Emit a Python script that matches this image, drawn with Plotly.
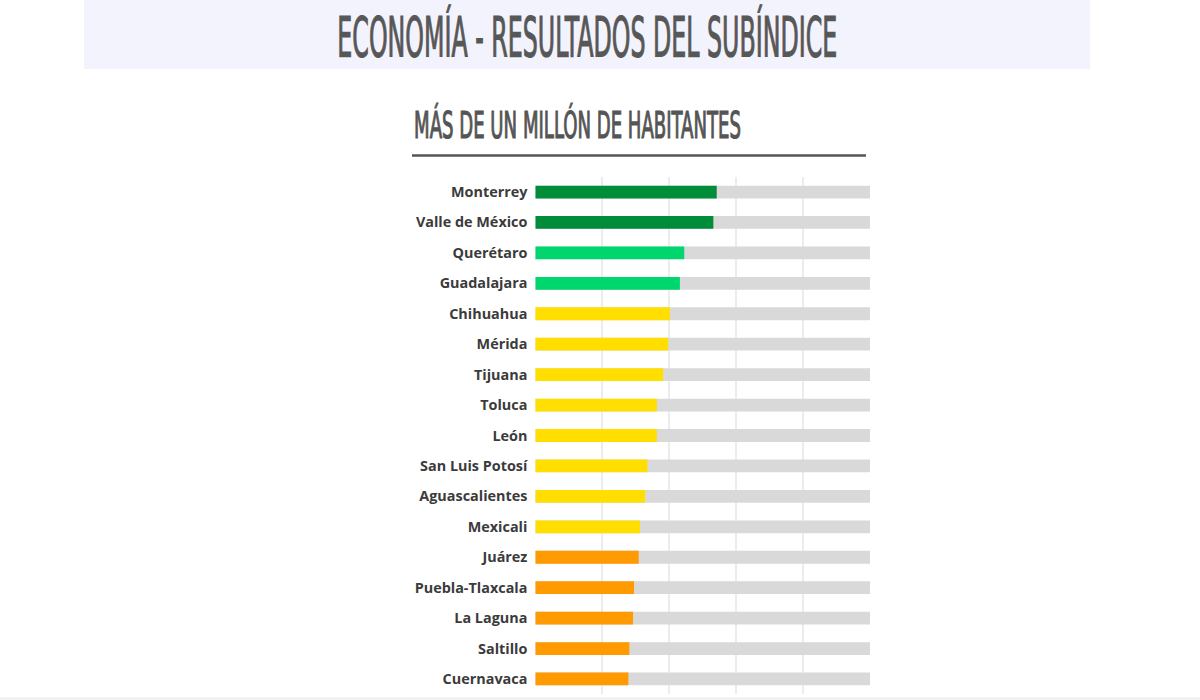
import plotly.graph_objects as go

ciudades = ["Monterrey", "Valle de México", "Querétaro", "Guadalajara", "Chihuahua",
            "Mérida", "Tijuana", "Toluca", "León", "San Luis Potosí", "Aguascalientes",
            "Mexicali", "Juárez", "Puebla-Tlaxcala", "La Laguna", "Saltillo", "Cuernavaca"]
valores = [54.2, 53.2, 44.5, 43.2, 40.2, 39.7, 38.2, 36.3, 36.3, 33.5, 32.8,
           31.3, 30.9, 29.5, 29.2, 28.1, 27.8]
niveles = ["muy alto", "muy alto", "alto", "alto", "medio", "medio", "medio", "medio",
           "medio", "medio", "medio", "medio", "bajo", "bajo", "bajo", "bajo", "bajo"]
maximo = [100] * len(ciudades)

colores_nivel = {"muy alto": "#008C39", "alto": "#00D66E", "medio": "#FFDE00", "bajo": "#FF9A00"}
colores = [colores_nivel[n] for n in niveles]

titulo = "ECONOMÍA - RESULTADOS DEL SUBÍNDICE"
subtitulo = "MÁS DE UN MILLÓN DE HABITANTES"

fig = go.Figure()
fig.add_trace(go.Bar(y=ciudades, x=maximo, orientation="h", marker_color="#D9D9D9",
                     marker_line_width=0, width=0.42, hoverinfo="skip"))
fig.add_trace(go.Bar(y=ciudades, x=valores, orientation="h", marker_color=colores,
                     marker_line_width=0, width=0.42))

fig.update_layout(
    width=1200, height=700,
    barmode="overlay", showlegend=False,
    paper_bgcolor="white", plot_bgcolor="white",
    margin=dict(l=0, r=0, t=0, b=0),
    xaxis=dict(domain=[535.3 / 1200, 870 / 1200], range=[0, 100], dtick=20,
               showgrid=True, gridcolor="#ECECEC", gridwidth=2, zeroline=False,
               showticklabels=False, fixedrange=True),
    yaxis=dict(domain=[5.8 / 700, 523.2 / 700], autorange="reversed",
               showgrid=False, ticks="outside", ticklen=4, tickcolor="rgba(0,0,0,0)",
               tickfont=dict(family="Open Sans", size=14.4, color="#3B3B3B", weight="bold")),
    shapes=[
        dict(type="rect", xref="paper", yref="paper", x0=84 / 1200, x1=1090 / 1200,
             y0=1 - 69 / 700, y1=1, fillcolor="#F3F3FD", line_width=0, layer="below"),
        dict(type="line", xref="paper", yref="paper", x0=412 / 1200, x1=866 / 1200,
             y0=1 - 155.5 / 700, y1=1 - 155.5 / 700, line=dict(color="#555555", width=2.5)),
        dict(type="line", xref="paper", yref="paper", x0=0, x1=1,
             y0=1.5 / 700, y1=1.5 / 700, line=dict(color="#EEEEEE", width=2)),
    ],
    annotations=[
        dict(text=titulo, xref="paper", yref="paper",
             x=587 / 1200, y=1 - 37 / 700, xanchor="center", yanchor="middle", showarrow=False,
             font=dict(family="DejaVu Sans Condensed", size=55, color="#575757")),
        dict(text=subtitulo, xref="paper", yref="paper",
             x=412 / 1200, y=1 - 125 / 700, xanchor="left", yanchor="middle", showarrow=False,
             font=dict(family="DejaVu Sans Condensed", size=38, color="#555555")),
    ],
)

# Condensed display lettering: narrow the two heading texts horizontally
post = """
var gd = document.getElementById('{plot_id}');
function narrow() {
  gd.querySelectorAll('.annotation-text').forEach(function (t) {
    var s = t.textContent;
    var target = null, anchorLeft = false;
    if (s.indexOf('ECONOM') === 0) { target = 500; }
    else if (s.indexOf('MÁS DE') === 0) { target = 327; anchorLeft = true; }
    if (target === null) return;
    t.style.stroke = t.style.fill;
    t.style.strokeWidth = '1.2px';
    var bb = t.getBBox();
    var k = target / bb.width;
    var ox = anchorLeft ? bb.x : bb.x + bb.width / 2;
    t.setAttribute('transform', 'translate(' + ox + ',0) scale(' + k + ',1) translate(' + (-ox) + ',0)');
  });
}
narrow();
"""

fig.write_html("out.html", post_script=post)
